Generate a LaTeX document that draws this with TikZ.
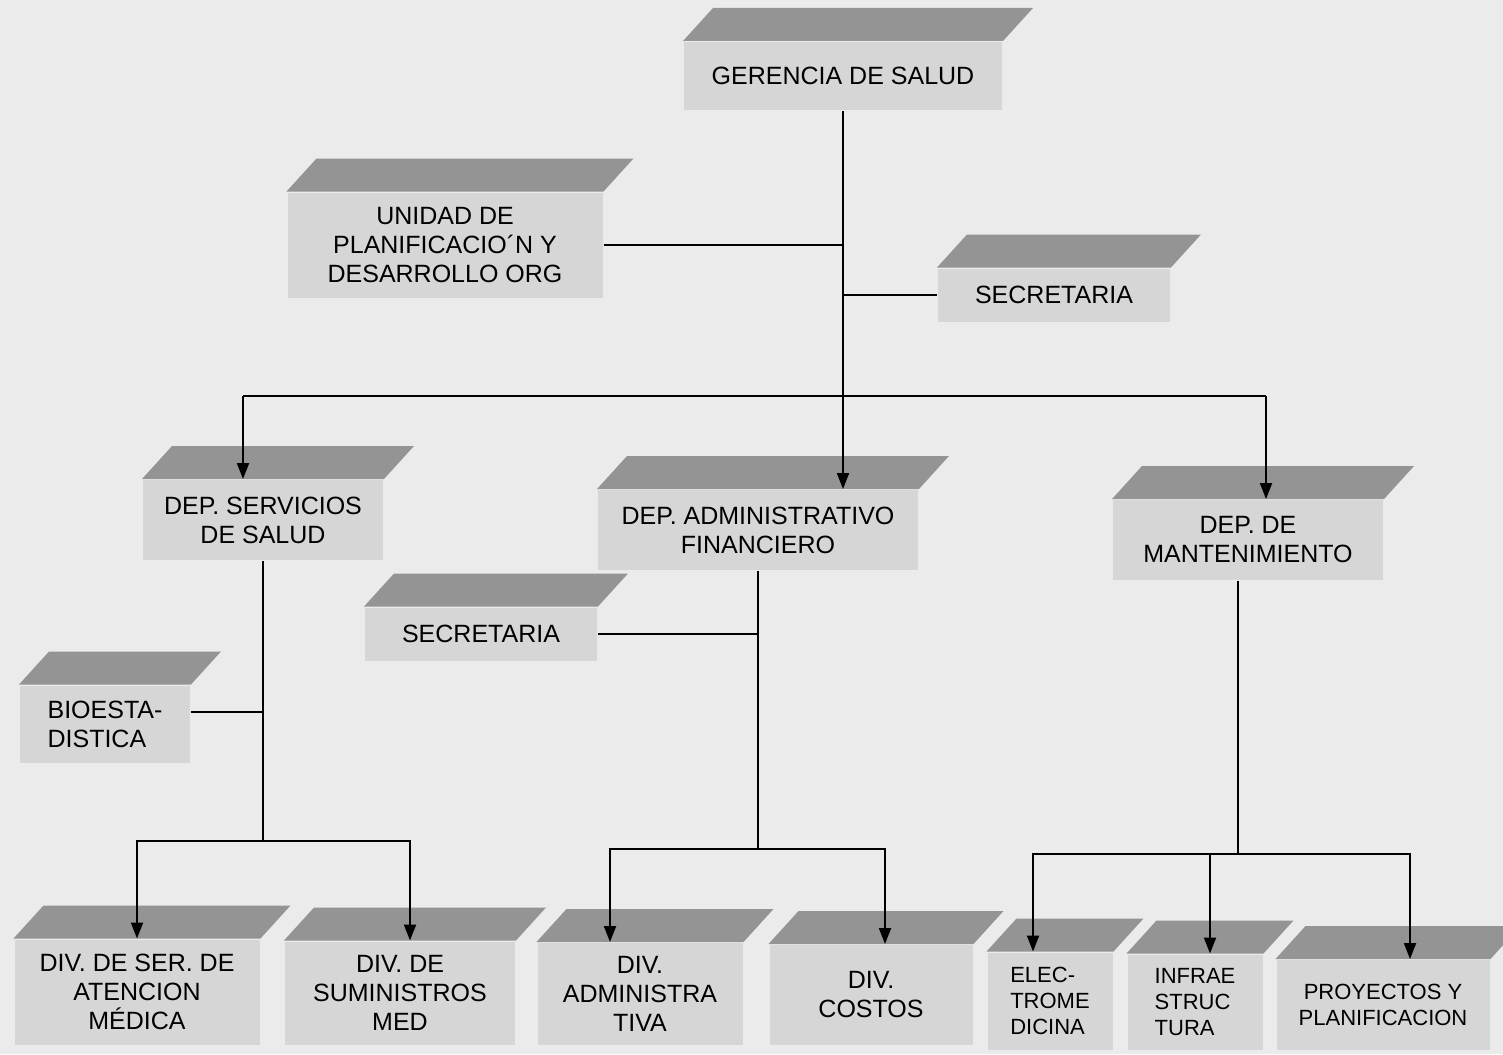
\documentclass[tikz,border=0pt]{standalone}
\usepackage{fontspec}
\setmainfont{Liberation Sans}
\usetikzlibrary{arrows.meta}

\definecolor{paper}{gray}{0.92}
\definecolor{slab}{gray}{0.84}
\definecolor{roof}{gray}{0.58}

\begin{document}
\begin{tikzpicture}[x=0.5pt,y=-0.5pt,>={Triangle[length=8pt,width=6pt]},
                    line width=1pt,
                    unit/.style={rectangle,fill=slab,align=center,inner sep=0pt,
                                 font=\fontsize{12.5}{14.5}\selectfont},
                    small/.style={font=\fontsize{11}{13}\selectfont},
                    dims/.style 2 args={minimum width=#1*0.5pt,minimum height=#2*0.5pt}]

  \fill[paper] (0,0) rectangle (1503,1054);
  \useasboundingbox (0,0) rectangle (1503,1054);

  % top level
  \node[unit,dims={318}{68}]  (ger)  at (843,76)   {GERENCIA DE SALUD};
  \node[unit,dims={315}{105}] (uni)  at (445,245)  {UNIDAD DE\\PLANIFICACIO´N Y\\DESARROLLO ORG};
  \node[unit,dims={232}{53}]  (sec1) at (1054,295) {SECRETARIA};

  % departments
  \node[unit,dims={240}{80}]  (dss)  at (263,520)  {DEP. SERVICIOS\\DE SALUD};
  \node[unit,dims={320}{80}]  (daf)  at (758,530)  {DEP. ADMINISTRATIVO\\FINANCIERO};
  \node[unit,dims={270}{80}]  (dma)  at (1248,540) {DEP. DE\\MANTENIMIENTO};
  \node[unit,dims={232}{53}]  (sec2) at (481,634)  {SECRETARIA};
  \node[unit,dims={170}{77},align=left] (bio) at (105,724) {BIOESTA-\\DISTICA};

  % divisions
  \node[unit,dims={245}{105}] (dsm)  at (137,992)  {DIV. DE SER. DE\\ATENCION\\MÉDICA};
  \node[unit,dims={230}{103}] (dsu)  at (400,993)  {DIV. DE\\SUMINISTROS\\MED};
  \node[unit,dims={205}{102}] (dad)  at (640,994)  {DIV.\\ADMINISTRA\\TIVA};
  \node[unit,dims={203}{100}] (dco)  at (871,995)  {DIV.\\COSTOS};
  \node[unit,small,dims={125}{97},align=left] (ele) at (1050,1001) {ELEC-\\TROME\\DICINA};
  \node[unit,small,dims={135}{95},align=left] (inf) at (1195,1002) {INFRAE\\STRUC\\TURA};
  \node[unit,small,dims={213}{90}] (pro)  at (1383,1005) {PROYECTOS Y\\PLANIFICACION};

  % slanted tops
  \foreach \n in {ger,uni,sec1,dss,daf,dma,sec2,bio,dsm,dsu,dad,dco,ele,inf,pro}
    \fill[roof] (\n.north west) -- (\n.north east) -- ++(30,-33)
                -- ([shift={(30,-33)}]\n.north west) -- cycle;

  % lines
  \draw[->] (ger.south) -- (ger.south |- daf.north);
  \draw (uni.east) -- (uni.east -| ger.south);
  \draw (sec1.west -| ger.south) -- (sec1.west);

  \coordinate (busl) at (243,396);
  \coordinate (busr) at (1266,396);
  \draw (busl) -- (busr);
  \draw[->] (busl) -- (busl |- dss.north);
  \draw[->] (busr) -- (busr |- dma.north);

  \draw (dss.south) -- ++(0,280) coordinate (fork1);
  \draw ([yshift=6pt]bio.east) -- ([yshift=6pt]bio.east -| dss.south);
  \draw[->] (fork1) -| (dsm.north);
  \draw[->] (fork1) -| ([xshift=5pt]dsu.north);

  \draw (daf.south) -- ++(0,278) coordinate (fork2);
  \draw (sec2.east) -- (sec2.east -| daf.south);
  \draw[->] (fork2) -| ([xshift=-15pt]dad.north);
  \draw[->] (fork2) -| ([xshift=7pt]dco.north);

  \draw ([xshift=-5pt]dma.south) -- ++(0,273) coordinate (fork3);
  \draw[->] (fork3) -| ([xshift=-8.5pt]ele.north);
  \draw[->] (fork3) -| ([xshift=7.5pt]inf.north);
  \draw[->] (fork3) -| ([xshift=13.5pt]pro.north);

\end{tikzpicture}
\end{document}
